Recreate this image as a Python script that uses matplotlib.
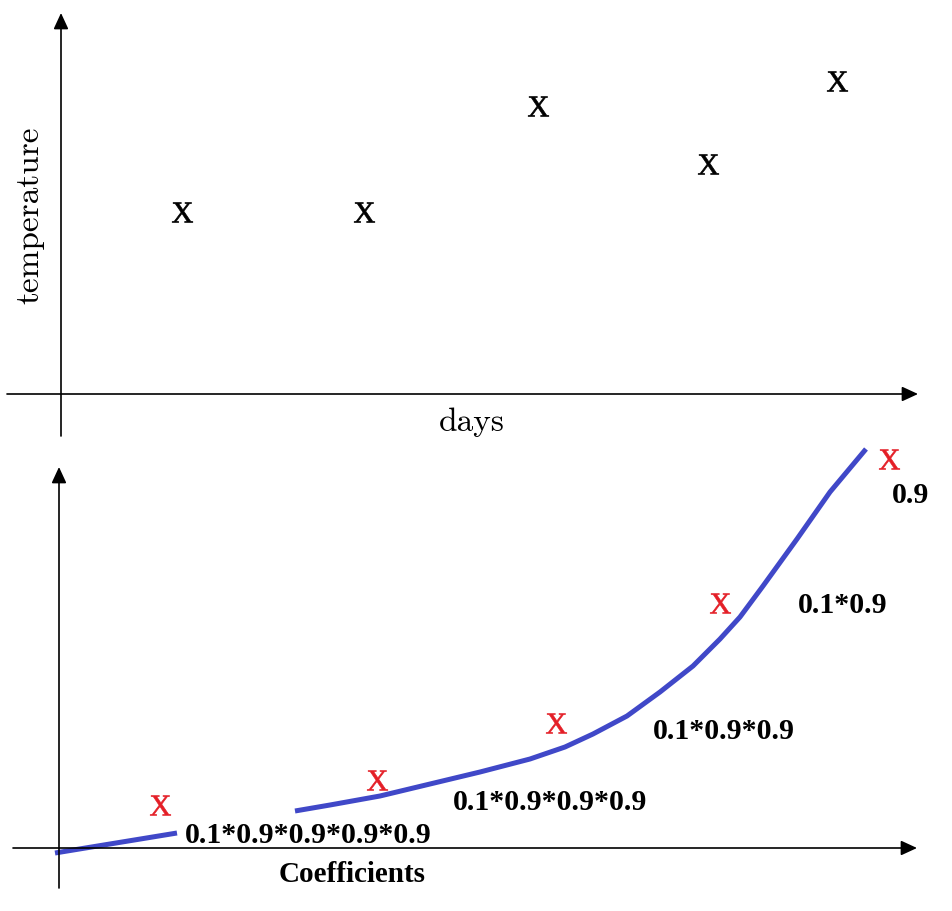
"""Two-panel sketch: raw temperature points and exponentially weighted coefficients."""

import matplotlib

matplotlib.use("Agg")
import matplotlib.pyplot as plt  # noqa: E402
import numpy as np

# top panel: raw observations
days = [1.21, 3.03, 4.77, 6.47, 7.76]
temperature = [1.82, 1.82, 2.88, 2.30, 3.13]

# bottom panel: weighted points and the fitted curve (nan = gap in the line)
coef_x = [1.01, 3.18, 4.97, 6.61, 8.30]
coef_y = [0.43, 0.68, 1.25, 2.45, 3.89]
curve_x = [-0.04, 1.18, np.nan, 2.36, 2.71, 3.21, 3.71, 4.21, 4.71, 5.06, 5.34, 5.68,
           6.01, 6.34, 6.61, 6.81, 7.04, 7.38, 7.71, 8.07]
curve_y = [-0.05, 0.15, np.nan, 0.37, 0.43, 0.52, 0.64, 0.76, 0.89, 1.01, 1.14, 1.32,
           1.56, 1.82, 2.09, 2.31, 2.62, 3.09, 3.56, 3.99]

# weight labels (left edge, baseline)
weight_labels = ["0.9", "0.1*0.9", "0.1*0.9*0.9", "0.1*0.9*0.9*0.9", "0.1*0.9*0.9*0.9*0.9"]
weight_x = [8.33, 7.39, 5.94, 3.94, 1.26]
weight_y = [3.46, 2.36, 1.10, 0.39, 0.06]

BLUE = "#4048c8"
RED = "#e41e26"

plt.rcParams["mathtext.fontset"] = "custom"
plt.rcParams["mathtext.rm"] = "Liberation Serif"

W, H = 952, 912
fig = plt.figure(figsize=(W / 100, H / 100), dpi=100)


def panel(top_px, bottom_px, origin_x, origin_y):
    """Axes covering a horizontal strip, 100 px per data unit, origin at the axis crossing."""
    ax = fig.add_axes([0, 1 - bottom_px / H, 1, (bottom_px - top_px) / H])
    ax.set_xlim(-origin_x / 100, (W - origin_x) / 100)
    ax.set_ylim((origin_y - bottom_px) / 100, (origin_y - top_px) / 100)
    ax.axis("off")
    return ax


def arrow(ax, start, tip):
    ax.annotate(
        "", xy=tip, xytext=start,
        arrowprops=dict(arrowstyle="-|>,head_length=0.65,head_width=0.3", mutation_scale=15,
                        lw=1.2, color="black", shrinkA=0, shrinkB=0),
        annotation_clip=False,
    )


# ---- top panel ----
ax1 = panel(0, 440, 61, 395)
arrow(ax1, (-0.54, 0), (8.57, 0))
arrow(ax1, (0, -0.42), (0, 3.81))
ax1.scatter(days, temperature, marker=r"$\mathrm{X}$", s=220, c="black", linewidths=0.5)
ax1.text(-0.31, 1.80, "temperature", rotation=90, ha="center", va="center",
         family="cmr10", fontsize=24)
ax1.text(4.11, -0.27, "days", ha="center", va="center", family="cmr10", fontsize=24)

# ---- bottom panel ----
ax2 = panel(440, 912, 59, 849)
arrow(ax2, (-0.46, 0), (8.58, 0))
arrow(ax2, (0, -0.40), (0, 3.81))
ax2.plot(curve_x, curve_y, color=BLUE, lw=3.6, solid_capstyle="butt",
         solid_joinstyle="round", clip_on=False)
ax2.scatter(coef_x, coef_y, marker=r"$\mathrm{X}$", s=220, c=RED, linewidths=0.45)
for label, lx, ly in zip(weight_labels, weight_x, weight_y):
    ax2.text(lx, ly, label, ha="left", va="baseline", family="Liberation Serif",
             fontweight="bold", fontsize=21.5)
ax2.text(2.93, -0.33, "Coefficients", ha="center", va="baseline",
         family="Liberation Serif", fontweight="bold", fontsize=21)

fig.savefig("out.png", dpi=100)
